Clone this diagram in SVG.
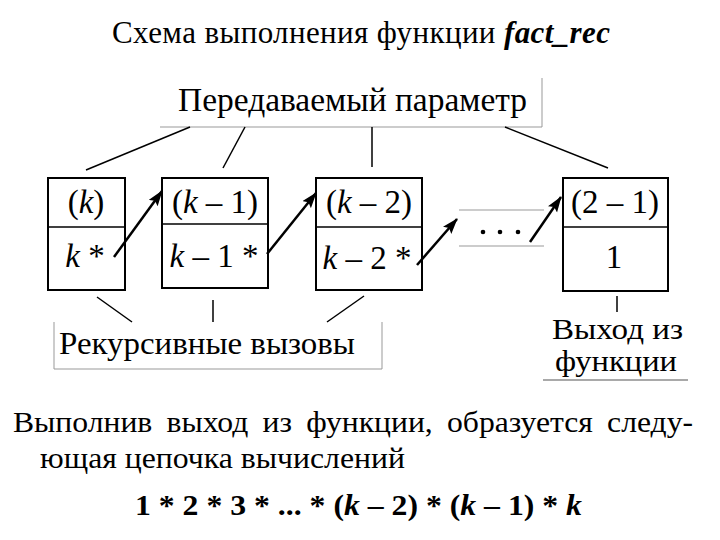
<svg xmlns="http://www.w3.org/2000/svg" width="720" height="540" viewBox="0 0 720 540">
<defs>
<style>
text{font-family:"Liberation Serif","Times New Roman",serif;fill:#000}
.box{fill:#fff;stroke:#000;stroke-width:2}
.div{stroke:#000;stroke-width:1.5}
.lbl{fill:none;stroke:#999;stroke-width:1}
.conn{stroke:#000;stroke-width:1.5;fill:none}
.arr{stroke:#000;stroke-width:2.5;fill:none;marker-end:url(#ah)}
.bt{font-size:33px;text-anchor:middle}
</style>
<marker id="ah" markerUnits="userSpaceOnUse" markerWidth="18" markerHeight="12" refX="15" refY="5.5" orient="auto">
<path d="M0,0 L16,5.5 L0,11 L3,5.5 Z" fill="#000"/>
</marker>
</defs>
<rect width="720" height="540" fill="#fff"/>

<g id="title">
<text x="361" y="43" font-size="31" text-anchor="middle" textLength="498">Схема выполнения функции <tspan font-weight="bold" font-style="italic">fact_rec</tspan></text>
</g>

<g id="label-param">
<polyline class="lbl" points="160,127 542,127 542,78"/>
<text x="178" y="111" font-size="33" textLength="349" lengthAdjust="spacingAndGlyphs">Передаваемый параметр</text>
</g>

<g id="box1">
<rect class="box" x="48" y="178" width="77" height="112"/>
<line class="div" x1="48" y1="227" x2="125" y2="227"/>
<text class="bt" x="86" y="213">(<tspan font-style="italic">k</tspan>)</text>
<text class="bt" x="85" y="267"><tspan font-style="italic">k</tspan> *</text>
</g>

<g id="box2">
<rect class="box" x="162" y="178" width="106" height="110"/>
<line class="div" x1="162" y1="224" x2="268" y2="224"/>
<text class="bt" x="215" y="213">(<tspan font-style="italic">k</tspan> – 1)</text>
<text class="bt" x="214" y="267"><tspan font-style="italic">k</tspan> – 1 *</text>
</g>

<g id="box3">
<rect class="box" x="316" y="178" width="106" height="112"/>
<line class="div" x1="316" y1="227" x2="422" y2="227"/>
<text class="bt" x="369" y="213">(<tspan font-style="italic">k</tspan> – 2)</text>
<text class="bt" x="367" y="269"><tspan font-style="italic">k</tspan> – 2 *</text>
</g>

<g id="ellipsis">
<line class="lbl" x1="459" y1="210" x2="544" y2="210" stroke="#bbb"/>
<line class="lbl" x1="459" y1="246" x2="544" y2="246" stroke="#ddd"/>
<circle cx="483" cy="232" r="2.3"/>
<circle cx="500" cy="232" r="2.3"/>
<circle cx="518" cy="232" r="2.3"/>
</g>

<g id="box4">
<rect class="box" x="563" y="178" width="105" height="113"/>
<line class="div" x1="563" y1="227" x2="668" y2="227"/>
<text class="bt" x="615" y="213">(2 – 1)</text>
<text class="bt" x="614" y="268">1</text>
</g>

<g id="label-calls">
<polyline class="lbl" points="54,322 54,369 382,369 382,322"/>
<text x="59" y="354" font-size="32" textLength="296" lengthAdjust="spacingAndGlyphs">Рекурсивные вызовы</text>
</g>

<g id="label-exit">
<text x="552" y="339" font-size="29" textLength="131" lengthAdjust="spacingAndGlyphs">Выход из</text>
<text x="555" y="371" font-size="29" textLength="122" lengthAdjust="spacingAndGlyphs">функции</text>
<line x1="543" y1="380" x2="688" y2="380" stroke="#555" stroke-width="1.2"/>
</g>

<g id="connectors">
<line class="conn" x1="190" y1="127" x2="86" y2="170"/>
<line class="conn" x1="245" y1="127" x2="223" y2="168"/>
<line class="conn" x1="372" y1="127" x2="372" y2="167"/>
<line class="conn" x1="505" y1="127" x2="608" y2="168"/>
<line class="conn" x1="97" y1="297" x2="132" y2="322"/>
<line class="conn" x1="213" y1="300" x2="213" y2="322"/>
<line class="conn" x1="364" y1="296" x2="327" y2="322"/>
<line class="conn" x1="617" y1="296" x2="617" y2="312"/>
<line class="arr" x1="114" y1="257" x2="162" y2="191"/>
<line class="arr" x1="267" y1="254" x2="316" y2="193"/>
<line class="arr" x1="417" y1="265" x2="457" y2="219"/>
<line class="arr" x1="530" y1="242" x2="561" y2="197"/>
</g>

<g id="paragraph">
<text x="13" y="432" font-size="30" word-spacing="6" textLength="680" lengthAdjust="spacingAndGlyphs">Выполнив выход из функции, образуется следу-</text>
<text x="40" y="468" font-size="30" textLength="365" lengthAdjust="spacingAndGlyphs">ющая цепочка вычислений</text>
<text x="135" y="515" font-size="30" font-weight="bold" textLength="447" lengthAdjust="spacingAndGlyphs">1 * 2 * 3 * ... * (<tspan font-style="italic">k</tspan> – 2) * (<tspan font-style="italic">k</tspan> – 1) * <tspan font-style="italic">k</tspan></text>
</g>
</svg>
